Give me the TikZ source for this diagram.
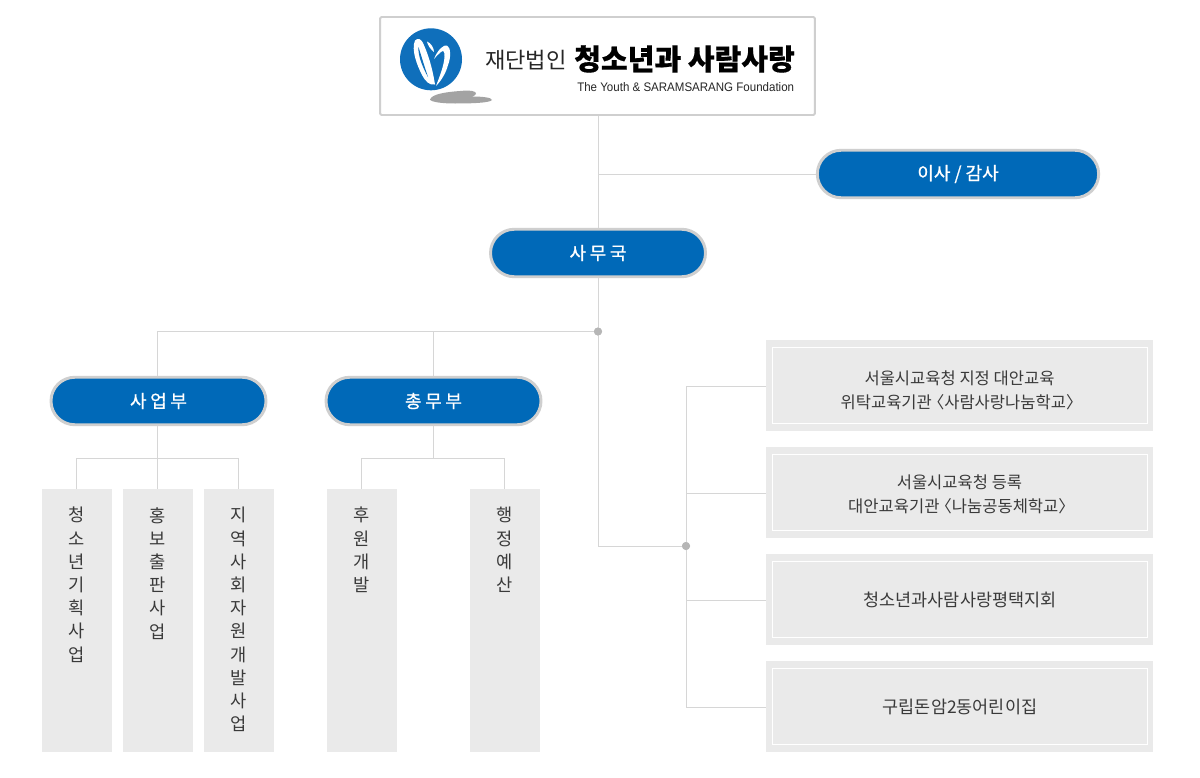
\documentclass[tikz,border=0pt]{standalone}
\usepackage{fontspec}
\usetikzlibrary{shapes.misc}
\setmainfont{Noto Sans CJK KR}
\newfontfamily\latinf[FakeStretch=0.93]{Liberation Sans}
\definecolor{pillblue}{HTML}{0069B8}
\definecolor{logoblue}{HTML}{0F6FBB}
\definecolor{pilledge}{HTML}{CFCFCF}
\definecolor{linecol}{HTML}{D6D6D6}
\definecolor{boxgrey}{HTML}{EAEAEA}
\definecolor{txt}{HTML}{3A3A3A}
\newcommand{\lbk}{\kern-.25em〈}
\newcommand{\rbk}{〉\kern-.25em}
\newcommand{\pilltext}[1]{\raisebox{-0.8pt}{#1}}
\tikzset{
  x=0.75pt,y=-0.75pt,
  pill/.style={rounded rectangle,draw=pilledge,line width=2.2pt,fill=pillblue,text=white,font=\fontsize{13.5pt}{15pt}\selectfont\addfontfeature{FakeBold=0.7},inner sep=0pt,minimum height=35.6pt},
  conn/.style={draw=linecol,line width=0.75pt},
  vbox/.style={fill=boxgrey,inner sep=0pt,minimum width=52.5pt,minimum height=197.25pt,anchor=north},
  vtext/.style={anchor=north,align=center,inner sep=0pt,text=txt,font=\fontsize{13.2pt}{17.4pt}\selectfont},
  sbox/.style={fill=boxgrey,draw=none,inner sep=0pt,minimum width=290.25pt,minimum height=68.25pt},
  sinner/.style={draw=white,line width=0.75pt,fill=none,inner sep=0pt,minimum width=281.25pt,minimum height=57pt},
  stwo/.style={align=center,inner sep=0pt,text=txt,font=\fontsize{12.4pt}{18.2pt}\selectfont},
  sone/.style={align=center,inner sep=0pt,text=txt,font=\fontsize{13.1pt}{18.2pt}\selectfont},
  jdot/.style={circle,fill=linecol!85!black,inner sep=0pt,minimum size=6pt}
}
\begin{document}
\begin{tikzpicture}
\useasboundingbox (0,0) rectangle (1200,778);
\fill[white] (0,0) rectangle (1200,778);
% junctions
\coordinate (j1) at (598,174.5);
\coordinate (j3) at (433.5,331.5);
\coordinate (j4) at (157.5,331.5);
\coordinate (j5) at (157.5,458.5);
\coordinate (j6) at (433.5,458.5);
\coordinate (j7) at (686,386);
\coordinate (j8) at (686,493);
\coordinate (j9) at (686,600);
\coordinate (j10) at (686,707);
\coordinate (j11) at (598,546);
\coordinate (c1) at (76.5,489);
\coordinate (c3) at (238.5,489);
\coordinate (c4) at (361.5,489);
\coordinate (c5) at (504.5,489);
% logo box
\node[draw=pilledge,line width=1.4pt,fill=white,rounded corners=1pt,minimum width=326pt,minimum height=73.5pt,inner sep=0pt] (top) at (597.5,66) {};
% pills
\node[pill,minimum width=161.25pt] (samu) at (598,253) {\pilltext{\addfontfeature{LetterSpace=20}사무국}};
\node[pill,minimum width=211pt] (isa) at (958,174) {\pilltext{이사 / 감사}};
\node[pill,minimum width=161.25pt] (saup) at (158.5,401) {\pilltext{\addfontfeature{LetterSpace=20}사업부}};
\node[pill,minimum width=161.25pt] (chong) at (433.5,401) {\pilltext{\addfontfeature{LetterSpace=20}총무부}};
\node[jdot] (d1) at (598,331.5) {};
\node[jdot] (d2) at (686,546) {};
% vertical boxes
\node[vbox] (v1) at (77,489) {};
\node[vbox] (v2) at (158,489) {};
\node[vbox] (v3) at (239,489) {};
\node[vbox] (v4) at (362,489) {};
\node[vbox] (v5) at (505,489) {};
\node[vtext] (t1) at (77,507) {청\\소\\년\\기\\획\\사\\업};
\node[vtext] (t2) at (158,507) {홍\\보\\출\\판\\사\\업};
\node[vtext] (t3) at (239,507) {지\\역\\사\\회\\자\\원\\개\\발\\사\\업};
\node[vtext] (t4) at (362,507) {후\\원\\개\\발};
\node[vtext] (t5) at (505,507) {행\\정\\예\\산};
% side boxes
\node[sbox] (s1) at (959.5,385.5) {};
\node[sinner] (s1i) at (959.5,385.5) {};
\node[stwo] (s1t) at (959.5,390.5) {서울시교육청 지정 대안교육\\위탁교육기관\lbk 사람사랑나눔학교\rbk};
\node[sbox] (s2) at (959.5,492.5) {};
\node[sinner] (s2i) at (959.5,492.5) {};
\node[stwo] (s2t) at (959.5,494) {서울시교육청 등록\\대안교육기관\lbk 나눔공동체학교\rbk};
\node[sbox] (s3) at (959.5,599.5) {};
\node[sinner] (s3i) at (959.5,599.5) {};
\node[sone] (s3t) at (960,599.5) {청소년과사람사랑평택지회};
\node[sbox] (s4) at (959.5,706.5) {};
\node[sinner] (s4i) at (959.5,706.5) {};
\node[sone] (s4t) at (960,706.5) {구립돈암2동어린이집};
% connectors
\draw[conn] (top.south -| samu.north) -- (samu.north);
\draw[conn] (j1) -- (isa.west |- j1);
\draw[conn] (samu.south) -- (d1.center);
\draw[conn] (d1.center) -- (j4) -- (j4 |- saup.north);
\draw[conn] (j3) -- (j3 |- chong.north);
\draw[conn] (d1.center) -- (j11) -- (d2.center);
\draw[conn] (s1.west |- j7) -- (j7) -- (j10) -- (s4.west |- j10);
\draw[conn] (j8) -- (s2.west |- j8);
\draw[conn] (j9) -- (s3.west |- j9);
\draw[conn] (j5 |- saup.south) -- (j5 |- v2.north);
\draw[conn] (c1) -- (c1 |- j5) -- (c3 |- j5) -- (c3);
\draw[conn] (j6 |- chong.south) -- (j6);
\draw[conn] (c4) -- (c4 |- j6) -- (c5 |- j6) -- (c5);
\node[jdot] at (d1) {};
\node[jdot] at (d2) {};
% logo
\fill[black!36] (430,99.5) .. controls (432,94) and (446,92) .. (460,91) .. controls (470,90) and (477,91) .. (476,94) .. controls (475,96) and (473,96) .. (472,96.5) .. controls (482,96.5) and (492,97.5) .. (492,100) .. controls (490,103) and (470,103.5) .. (455,103.5) .. controls (442,103.5) and (431,102) .. (430,99.5) -- cycle;
\fill[logoblue] (431,59.3) circle[radius=31];
% left strand
\fill[white] (415,40.5) .. controls (418,37.5) and (421,39) .. (423,43) .. controls (428,54) and (432,66) .. (435,84.5) .. controls (430,86) and (425,81) .. (422,75) .. controls (417,65) and (411,50) .. (415,40.5) -- cycle;
\fill[logoblue] (418.5,47) .. controls (421,55) and (424,65) .. (428,77) .. controls (424,70) and (417.5,56) .. (418.5,47) -- cycle;
% small stroke
\fill[white] (427,41.5) .. controls (431,43) and (434,48) .. (434,52) .. controls (431,50) and (427.5,45) .. (427,41.5) -- cycle;
% right strand
\fill[white] (434,59) .. controls (438,49) and (444,44.5) .. (447,45.5) .. controls (451,47) and (451,58) .. (448,65) .. controls (446,73) and (441,81) .. (436,86) .. controls (439,78) and (444,66) .. (444.5,57) .. controls (445,51) and (443,50) .. (441,52) .. controls (438,54) and (436,57) .. (434,59) -- cycle;
\node[inner sep=0pt,anchor=west,text=black!85,font=\fontsize{16.6pt}{18pt}\selectfont] (n1) at (485,60) {재단법인};
\node[inner sep=0pt,anchor=west,text=black,font=\fontsize{21.8pt}{24pt}\selectfont\bfseries\addfontfeature{FakeBold=0.5}] (n2) at (574,59) {청소년과 사람사랑};
\node[inner sep=0pt,anchor=west,text=black!85,font=\latinf\fontsize{9.3pt}{11pt}\selectfont] (n3) at (577,87) {The Youth \& SARAMSARANG Foundation};
\end{tikzpicture}
\end{document}
